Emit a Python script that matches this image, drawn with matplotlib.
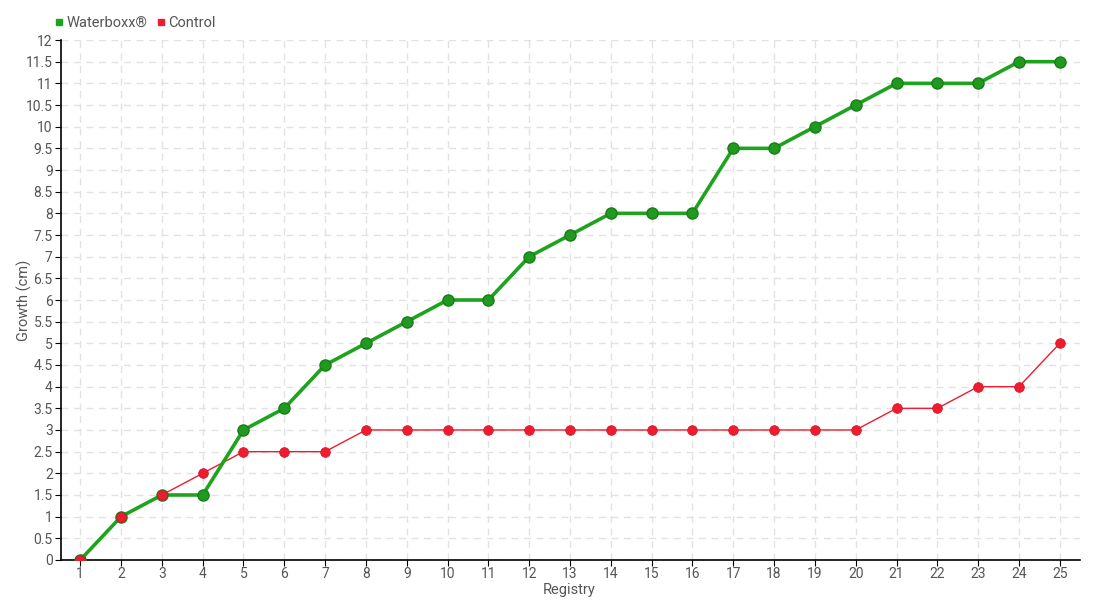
import matplotlib.pyplot as plt
from matplotlib.lines import Line2D

registry = list(range(1, 26))
waterboxx = [0, 1, 1.5, 1.5, 3, 3.5, 4.5, 5, 5.5, 6, 6, 7, 7.5, 8, 8, 8,
             9.5, 9.5, 10, 10.5, 11, 11, 11, 11.5, 11.5]
control = [0, 1, 1.5, 2, 2.5, 2.5, 2.5, 3, 3, 3, 3, 3, 3, 3, 3, 3,
           3, 3, 3, 3, 3.5, 3.5, 4, 4, 5]
y_ticks = [i * 0.5 for i in range(25)]
y_labels = ['%g' % v for v in y_ticks]

GREEN = '#1ea31e'
RED = '#ee1c2e'
TEXT = '#555555'

plt.rcParams['font.family'] = ['Roboto', 'DejaVu Sans']

fig = plt.figure(figsize=(11, 6), dpi=100)
ax = fig.add_axes([0.0555, 0.0667, 0.9265, 0.8666])

# lines first, markers on top
ax.plot(registry, control, color=RED, lw=1, zorder=2)
ax.plot(registry, waterboxx, color=GREEN, lw=2.6, zorder=3)
ax.plot(registry, waterboxx, ls='none', marker='o', ms=8,
        mfc='#1f9a1f', mec='#197d19', mew=1, zorder=4)
ax.plot(registry, control, ls='none', marker='o', ms=7,
        mfc=RED, mec='#d0182a', mew=0.5, zorder=5)

ax.set_xlim(0.53, 25.5)
ax.set_ylim(0, 12)
ax.set_xticks(registry)
ax.set_yticks(y_ticks)
ax.set_yticklabels(y_labels)
ax.tick_params(labelsize=10, length=4, pad=2, color='black', labelcolor=TEXT)
ax.tick_params(axis='x', pad=1)

ax.grid(True, ls=(0, (5, 4)), color='#e2e2e2', lw=1)
ax.set_axisbelow(True)
for s in ['top', 'right']:
    ax.spines[s].set_visible(False)
for s in ['left', 'bottom']:
    ax.spines[s].set_color('black')
    ax.spines[s].set_linewidth(1.2)

fig.text(0.517, 0.016, 'Registry', color=TEXT, fontsize=10.5,
         ha='center', va='center')
fig.text(0.022, 0.5, 'Growth (cm)', color=TEXT, fontsize=10.5,
         ha='center', va='center', rotation=90)

handles = [Line2D([], [], ls='none', marker='s', ms=5, color=GREEN),
           Line2D([], [], ls='none', marker='s', ms=5, color=RED)]
fig.legend(handles, ['Waterboxx®', 'Control'], loc='upper left',
           bbox_to_anchor=(0.038, 0.995), ncol=2, frameon=False,
           fontsize=10.5, handlelength=0.6, handletextpad=0.2,
           columnspacing=0.6, labelcolor=TEXT)

fig.savefig('out.png')
